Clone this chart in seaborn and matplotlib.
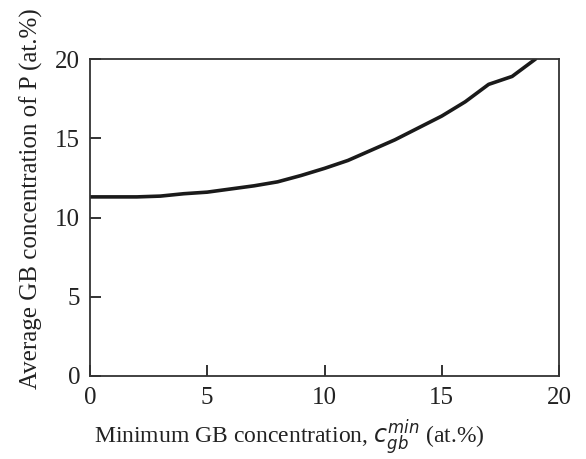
import matplotlib
matplotlib.use("Agg")
import matplotlib.pyplot as plt
import seaborn as sns
import pandas as pd

x_vals = [0, 1, 2, 3, 4, 5, 6, 7, 8, 9, 10, 11, 12, 13, 14, 15, 16, 17, 18, 19]
y_vals = [11.3, 11.3, 11.3, 11.35, 11.5, 11.6, 11.8, 12.0, 12.25, 12.65, 13.1,
          13.6, 14.25, 14.9, 15.65, 16.4, 17.3, 18.4, 18.9, 20.0]
x_ticks = [0, 5, 10, 15, 20]
y_ticks = [0, 5, 10, 15, 20]

sns.set_theme(style="ticks")
plt.rcParams['font.family'] = ['Liberation Serif', 'DejaVu Serif']
plt.rcParams['mathtext.fontset'] = 'dejavusans'

df = pd.DataFrame({"x": x_vals, "y": y_vals})
fig = plt.figure(figsize=(5.86, 4.59), dpi=100)
ax = fig.add_axes([90/586, 1 - 376/459, (559-90)/586, (376-59)/459])
sns.lineplot(data=df, x="x", y="y", ax=ax, color="#1a1a1a", linewidth=2.6)
ax.set_xlim(0, 20)
ax.set_ylim(0, 20)
ax.set_xticks(x_ticks)
ax.set_yticks(y_ticks)
ax.tick_params(direction="in", length=8, width=1.3, labelsize=18, colors="#222222",
               top=False, right=False)
ax.tick_params(axis="y", pad=7)
ax.tick_params(axis="x", pad=8)
for s in ax.spines.values():
    s.set_visible(True)
    s.set_linewidth(1.3)
    s.set_color("#333333")
ax.set_xlabel(r"Minimum GB concentration, $c_{gb}^{min}$ (at.%)", fontsize=17, color="#222222")
ax.set_ylabel("Average GB concentration of P (at.%)", fontsize=18, color="#222222")
ax.xaxis.set_label_coords(0.426, -0.128)
ax.yaxis.set_label_coords(-0.10, 0.56)
fig.savefig("out.png", dpi=100)
